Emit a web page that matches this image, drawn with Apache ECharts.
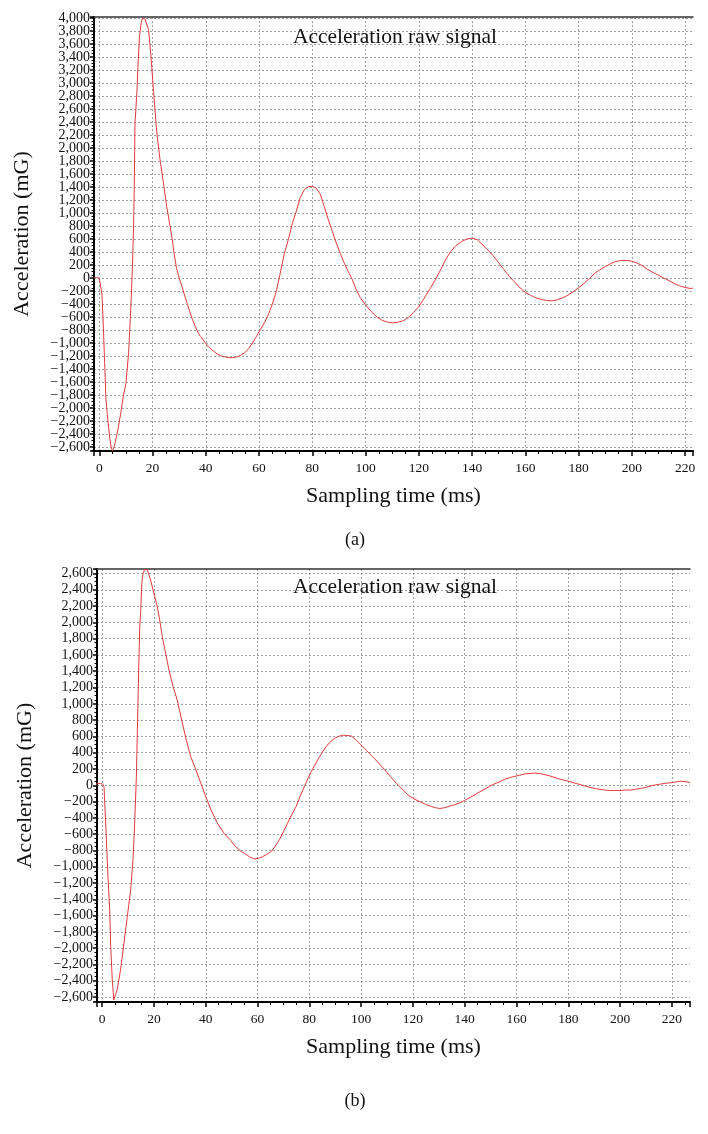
<!DOCTYPE html>
<html>
<head>
<meta charset="utf-8">
<script src="https://cdn.jsdelivr.net/npm/echarts@6/dist/echarts.min.js"></script>
<style>
  html, body { margin: 0; padding: 0; background: #fff; }
  #chart { width: 708px; height: 1134px; }
</style>
</head>
<body>
<div id="chart"></div>
<script>
// (a) sampling time (ms) and raw acceleration (mG)
var timeA = [-2, -1, 0, 0.5, 1, 1.5, 2, 2.5, 3, 3.5, 4, 4.5, 5, 5.5, 6, 7, 8, 9, 10, 11,
  11.8, 12.4, 12.8, 13.1, 13.4, 13.8, 14.1, 14.5, 15.1, 15.7, 16.2, 16.6, 17.1, 17.6, 18.5, 19.4,
  20.4, 21.6, 22.8, 24.1, 25.3, 26.6, 27.4, 28, 29, 30, 31, 32, 33, 34, 35, 36, 37, 38, 39, 40,
  41, 42, 43, 44, 45.5, 47, 48.5, 50, 51.5, 53, 54.5, 56, 57.5, 59, 60.5, 62, 63.5, 65, 66.5, 68,
  69.5, 71, 72.5, 74, 75.5, 77, 78.5, 80, 81.5, 83, 84.5, 86, 87.5, 89, 90.5, 92, 93.5, 95, 96.5,
  98, 100, 102, 104, 106, 108, 110, 112, 114, 116, 118, 120, 122, 124, 126, 128, 130, 132, 134,
  136, 138, 140, 142, 144, 146, 148, 150, 152, 154, 156, 158, 160, 162, 164, 166, 168, 170, 172,
  174, 176, 178, 180, 182, 184, 186, 188, 190, 192, 194, 196, 198, 200, 202, 204, 206, 208, 210,
  212, 214, 216, 218, 220, 222, 223];
var accelA = [0, 10, -5, -30, -250, -740, -1300, -1870, -2100, -2300, -2480, -2620, -2660, -2600, -2520, -2330, -2090, -1820, -1620, -1150,
  -490, 130, 690, 1300, 2380, 2650, 2850, 3250, 3720, 3920, 3990, 4000, 3990, 3960, 3820, 3410,
  2850, 2230, 1820, 1460, 1100, 795, 590, 400, 150, 0, -125, -260, -390, -520, -640, -740, -830, -900, -950, -1010,
  -1050, -1095, -1125, -1160, -1195, -1210, -1225, -1225, -1215, -1190, -1150, -1090, -1000, -900, -790, -690, -560, -400, -200, 80,
  380, 590, 840, 1030, 1240, 1360, 1405, 1410, 1380, 1290, 1100, 900, 720, 540, 380, 230, 100, -20, -180,
  -300, -410, -510, -590, -645, -675, -690, -680, -660, -610, -530, -440, -310, -180, -40, 110, 280, 410, 500,
  560, 600, 615, 590, 510, 430, 340, 235, 130, 25, -60, -150, -220, -265, -305, -330, -345, -350, -335,
  -305, -265, -210, -150, -85, -10, 70, 125, 175, 220, 255, 270, 272, 260, 230, 190, 130, 85, 45,
  0, -40, -85, -120, -145, -160, -155];

// (b)
var timeB = [-2.6, -1.5, -0.6, 0.3, 0.7, 1.3, 1.8, 2.3, 2.9, 3.3, 3.9, 4.5, 5.2, 5.8, 7.1, 8.4, 9.7, 11,
  11.9, 12.5, 13.2, 13.9, 14.5, 14.9, 15.3, 15.8, 16.4, 17.4, 18.7, 20, 21.3, 22.2, 23.2, 24.5, 25.8,
  27.4, 29, 30.7, 32.5, 34.2, 36.2, 38.1, 40, 42, 44.5, 47.1, 49.7, 51.6, 53.5, 55, 57, 58.7, 60.5,
  62, 63.5, 65.2, 66.8, 68.4, 70, 71.6, 73.2, 74.9, 76.5, 78.1, 79.5, 80.7, 82, 83.2, 84.8, 86.5, 88,
  89.7, 91.3, 92.9, 94.5, 96.2, 98, 100, 102, 104.5, 107, 109.1, 111.3, 113.6, 116, 118.1, 120.3,
  122.6, 125, 127.1, 128.7, 130.4, 132.3, 134.2, 136, 138.1, 140, 142, 144, 145.8, 147.8, 149.7,
  151.7, 153.6, 155.5, 157.4, 159.4, 161.3, 163.3, 165.2, 167, 169, 171, 172.9, 174.9, 176.8, 178.8,
  180.7, 182.6, 184.5, 186.5, 188.4, 190.4, 192.3, 194.2, 196.2, 198, 200.1, 202, 204, 206, 207.8,
  210, 211.7, 213.6, 215.6, 217.5, 219.4, 221.4, 223.3, 225, 227];
var accelB = [15, 20, 25, 10, -15, -425, -800, -1160, -1530, -1980, -2390, -2635, -2640, -2510, -2265, -1940, -1610, -1285,
  -915, -510, 105, 1130, 1945, 2150, 2480, 2600, 2650, 2650, 2520, 2355, 2190, 2030, 1825, 1620, 1415,
  1210, 1045, 800, 555, 350, 190, 25, -140, -300, -465, -590, -680, -755, -810, -835, -880, -905, -895,
  -875, -850, -815, -750, -670, -570, -465, -360, -260, -130, -15, 85, 165, 240, 310, 395, 475, 530,
  575, 600, 615, 612, 605, 560, 495, 430, 350, 265, 190, 110, 25, -55, -120, -165,
  -200, -235, -260, -275, -285, -275, -255, -240, -215, -185, -150, -115, -80, -45, -10,
  20, 45, 75, 95, 110, 125, 140, 145, 150, 145, 130, 115, 95, 75, 60,
  45, 25, 10, -10, -25, -40, -50, -58, -65, -62, -65, -58, -60, -48, -40,
  -25, -10, 5, 15, 25, 30, 40, 50, 45, 35];

function pairs(ts, vs) {
  var out = [];
  for (var i = 0; i < ts.length; i++) out.push([ts[i], vs[i]]);
  return out;
}

function fmtY(v) {
  var s = Math.abs(v).toLocaleString('en-US');
  return v < 0 ? '\u2212' + s : s;
}

var serif = '"Liberation Serif", "DejaVu Serif", serif';
var grid = { color: '#a0a0a0', type: [2, 2], width: 1 };

function xAxisCfg(gi, min, max) {
  return {
    gridIndex: gi, type: 'value', min: min, max: max,
    minInterval: 20, maxInterval: 20, splitNumber: 11,
    name: 'Sampling time (ms)', nameLocation: 'middle', nameGap: 34,
    nameTextStyle: { fontFamily: serif, fontSize: 22, color: '#111' },
    axisLine: { onZero: false, lineStyle: { color: '#000', width: 2 } },
    axisTick: { length: 5, lineStyle: { color: '#000', width: 1.5 } },
    minorTick: { show: true, splitNumber: 4, length: 3, lineStyle: { color: '#000', width: 1 } },
    axisLabel: { fontFamily: serif, fontSize: 13.5, color: '#111', margin: 10, showMinLabel: false, showMaxLabel: false },
    splitLine: { show: true, showMinLine: false, showMaxLine: false, lineStyle: grid }
  };
}

function topLine(gi, min, max) {
  return {
    gridIndex: gi, type: 'value', position: 'top', min: min, max: max,
    axisLine: { show: true, onZero: false, lineStyle: { color: '#333', width: 1.5 } },
    axisTick: { show: false }, axisLabel: { show: false }, splitLine: { show: false }
  };
}

function yAxisCfg(gi, min, max, split) {
  return {
    gridIndex: gi, type: 'value', min: min, max: max,
    minInterval: 200, maxInterval: 200, splitNumber: split,
    name: 'Acceleration (mG)', nameLocation: 'middle', nameGap: 61,
    nameTextStyle: { fontFamily: serif, fontSize: 22, color: '#111' },
    axisLine: { show: true, onZero: false, lineStyle: { color: '#000', width: 2 } },
    axisTick: { show: true, length: 4, lineStyle: { color: '#000', width: 1.5 } },
    minorTick: { show: true, splitNumber: 4, length: 2.5, lineStyle: { color: '#000', width: 1 } },
    axisLabel: { fontFamily: serif, fontSize: 14, color: '#111', margin: 4,
      showMinLabel: false, showMaxLabel: false, formatter: fmtY },
    splitLine: { show: true, showMinLine: false, showMaxLine: false, lineStyle: grid }
  };
}

var chart = echarts.init(document.getElementById('chart'), null, { renderer: 'canvas' });
chart.setOption({
  backgroundColor: '#fff',
  animation: false,
  title: [
    { text: 'Acceleration raw signal', left: 390, top: 21, textAlign: 'center',
      textStyle: { fontFamily: serif, fontSize: 21.5, fontWeight: 'normal', color: '#111' } },
    { text: '(a)', left: 350, top: 526, textAlign: 'center',
      textStyle: { fontFamily: serif, fontSize: 18, fontWeight: 'normal', color: '#111' } },
    { text: 'Acceleration raw signal', left: 390, top: 571, textAlign: 'center',
      textStyle: { fontFamily: serif, fontSize: 21.5, fontWeight: 'normal', color: '#111' } },
    { text: '(b)', left: 350, top: 1087, textAlign: 'center',
      textStyle: { fontFamily: serif, fontSize: 18, fontWeight: 'normal', color: '#111' } }
  ],
  grid: [
    { left: 94, top: 17, width: 599, height: 434 },
    { left: 97, top: 569, width: 593, height: 433 }
  ],
  xAxis: [
    xAxisCfg(0, -2, 223), topLine(0, -2, 223),
    xAxisCfg(1, -2, 227), topLine(1, -2, 227)
  ],
  yAxis: [
    yAxisCfg(0, -2660, 4015, 33),
    yAxisCfg(1, -2660, 2655, 26)
  ],
  series: [
    { type: 'line', xAxisIndex: 0, yAxisIndex: 0, data: pairs(timeA, accelA),
      showSymbol: false, lineStyle: { color: '#e3393c', width: 1 } },
    { type: 'line', xAxisIndex: 2, yAxisIndex: 1, data: pairs(timeB, accelB),
      showSymbol: false, lineStyle: { color: '#e3393c', width: 1 } }
  ]
});
</script>
</body>
</html>
